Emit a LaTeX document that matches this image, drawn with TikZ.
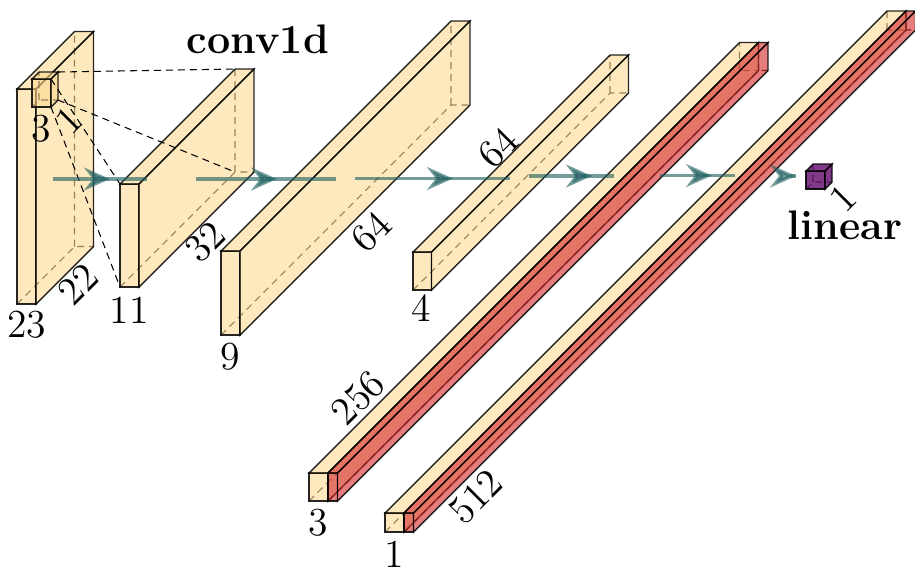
\documentclass[tikz,border=0pt]{standalone}
\usepackage{amsmath}
\usetikzlibrary{arrows.meta,decorations.markings}
\definecolor{sand}{HTML}{FDD993}
\definecolor{brick}{HTML}{D42E2E}
\definecolor{plum}{HTML}{6A1772}
\definecolor{deepteal}{HTML}{1F5F60}
\tikzset{lbl/.style={inner sep=0pt,font=\fontsize{11.3}{13}\selectfont}, dim/.style={lbl,rotate=45}, head/.style={lbl,font=\fontsize{11.75}{13}\selectfont\bfseries}, hidden/.style={dashed,line width=.3pt,dash pattern=on .7mm off .5mm}, sandface/.style={fill=sand,fill opacity=.6,draw=black,draw opacity=.85,line width=.4pt}, brickface/.style={fill=brick,fill opacity=.62,draw=black,draw opacity=.85,line width=.4pt}, plumface/.style={fill=plum,fill opacity=.85,draw=black,draw opacity=.9,line width=.4pt}, proj/.style={dashed,line width=.3pt,dash pattern=on .7mm off .5mm}, flow/.style={line width=.35mm,draw=deepteal,draw opacity=.62,postaction={decorate},decoration={markings,mark=at position #1 with {\arrow[draw opacity=.62,fill opacity=.62,fill=deepteal]{Stealth[length=2.6mm,width=2.3mm,inset=.9mm]}}}}}
% name, left, top, width, height, depth, face style
\newcommand{\cuboid}[7]{
\coordinate (#1ftl) at (#2,#3);\coordinate (#1ftr) at (#2+#4,#3);
\coordinate (#1fbl) at (#2,#3+#5);\coordinate (#1fbr) at (#2+#4,#3+#5);
\coordinate (#1btl) at (#2+#6,#3-#6);\coordinate (#1btr) at (#2+#4+#6,#3-#6);
\coordinate (#1bbl) at (#2+#6,#3+#5-#6);\coordinate (#1bbr) at (#2+#4+#6,#3+#5-#6);
\draw[hidden] (#1fbl)--(#1bbl)--(#1bbr) (#1bbl)--(#1btl);
\filldraw[#7] (#1ftl)--(#1ftr)--(#1fbr)--(#1fbl)--cycle;
\filldraw[#7] (#1ftl)--(#1ftr)--(#1btr)--(#1btl)--cycle;
\filldraw[#7] (#1ftr)--(#1fbr)--(#1bbr)--(#1btr)--cycle;}
\begin{document}
\begin{tikzpicture}[x=.1mm,y=-.1mm]
\useasboundingbox (0,0) rectangle (915,567);
\cuboid{a}{17}{89}{19}{215}{57.5}{sandface}
\cuboid{k}{32}{79}{19}{28}{7}{sandface}
\cuboid{b}{120}{184}{19}{103}{115}{sandface}
\cuboid{c}{221}{251}{19}{84}{230}{sandface}
\cuboid{d}{413}{252}{18.5}{38}{197}{sandface}
\cuboid{e}{309}{473}{19}{28}{430.5}{sandface}
\cuboid{er}{328}{473}{9.5}{28}{430.5}{brickface}
\cuboid{f}{385}{513}{19}{19}{502}{sandface}
\cuboid{fr}{404}{513}{9.5}{19}{502}{brickface}
\cuboid{p}{806}{171}{19}{18}{7}{plumface}
\draw[proj] (kbtr)--(bbtl);
\draw[proj] (kbbr)--(bbbl);
\draw[proj] (kftr)--(bftl);
\draw[proj] (kfbr)--(bfbl);
\coordinate (s1) at (53,179);\coordinate (t1) at (147,179);
\coordinate (s2) at (196,179);\coordinate (t2) at (336,179);
\coordinate (s3) at (355,178.5);\coordinate (t3) at (510,178.5);
\coordinate (s4) at (529,176);\coordinate (t4) at (614,176);
\coordinate (s5) at (660,175.5);\coordinate (t5) at (735,175.5);
\coordinate (s6) at (790,176);\coordinate (t6) at (796,176);
\draw[flow=.606] (s1)--(t1);
\draw[flow=.579] (s2)--(t2);
\draw[flow=.632] (s3)--(t3);
\draw[flow=.74] (s4)--(t4);
\draw[flow=.693] (s5)--(t5);
\draw[flow=1] (s6)--(t6);
\node[head] (conv) at (258,39) {conv1d};
\node[head] (linear) at (845,225.5) {linear};
\node[lbl] (k3) at (41,129) {3};
\node[dim] (k1) at (69,120) {1};
\node[lbl] (a23) at (27,325) {23};
\node[dim] (a22) at (78,284) {22};
\node[lbl] (b11) at (129,310) {11};
\node[dim] (b32) at (205,242) {32};
\node[lbl] (c9) at (230,357) {9};
\node[dim] (c64) at (371,232) {64};
\node[lbl] (d4) at (421,308) {4};
\node[dim] (d64) at (498,148) {64};
\node[lbl] (e3) at (318,523) {3};
\node[dim] (e256) at (358,398) {256};
\node[lbl] (f1) at (394,554) {1};
\node[dim] (f512) at (476,497) {512};
\node[dim] (p1) at (843,198) {1};
\end{tikzpicture}
\end{document}
